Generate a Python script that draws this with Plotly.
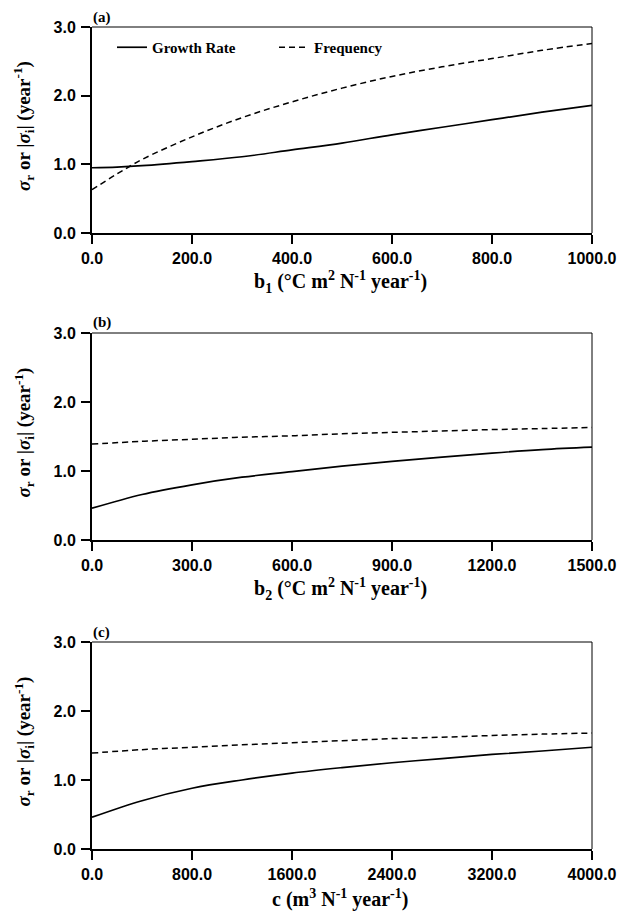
import plotly.graph_objects as go

# Panel (a): dependence on b1
b1 = [0, 50, 100, 200, 300, 400, 500, 600, 700, 800, 900, 1000]
growth_a = [0.95, 0.96, 0.98, 1.04, 1.11, 1.21, 1.31, 1.43, 1.54, 1.65, 1.76, 1.86]
freq_a = [0.63, 0.86, 1.07, 1.40, 1.68, 1.91, 2.11, 2.28, 2.42, 2.54, 2.66, 2.76]

# Panel (b): dependence on b2
b2 = [0, 150, 300, 450, 600, 750, 900, 1050, 1200, 1350, 1500]
growth_b = [0.46, 0.66, 0.80, 0.91, 0.99, 1.07, 1.14, 1.20, 1.26, 1.31, 1.345]
freq_b = [1.39, 1.43, 1.46, 1.49, 1.51, 1.54, 1.56, 1.58, 1.60, 1.615, 1.63]

# Panel (c): dependence on c
c_vals = [0, 400, 800, 1200, 1600, 2000, 2400, 2800, 3200, 3600, 4000]
growth_c = [0.46, 0.70, 0.88, 1.00, 1.10, 1.18, 1.25, 1.31, 1.37, 1.42, 1.475]
freq_c = [1.39, 1.44, 1.475, 1.51, 1.54, 1.57, 1.60, 1.62, 1.645, 1.665, 1.68]

x_ticks_a = [0, 200, 400, 600, 800, 1000]
x_ticks_b = [0, 300, 600, 900, 1200, 1500]
x_ticks_c = [0, 800, 1600, 2400, 3200, 4000]
y_ticks = [0, 1, 2, 3]

panel_letters = ["(a)", "(b)", "(c)"]
x_titles = [
    "b<sub>1</sub> (°C m<sup>2</sup> N<sup>-1</sup> year<sup>-1</sup>)",
    "b<sub>2</sub> (°C m<sup>2</sup> N<sup>-1</sup> year<sup>-1</sup>)",
    "c (m<sup>3</sup> N<sup>-1</sup> year<sup>-1</sup>)",
]
y_title = "<i>σ</i><sub>r</sub> or |<i>σ</i><sub>i</sub>| (year<sup>-1</sup>)"

W, H = 618, 911
X0, X1 = 92, 592
panel_px = [(27, 233), (333, 540), (642, 849)]  # top, bottom in pixels

serif = "Liberation Serif, Times New Roman, serif"
sans = "Liberation Sans, Arial, sans-serif"

panels = [
    (b1, growth_a, freq_a, x_ticks_a, [0, 1000]),
    (b2, growth_b, freq_b, x_ticks_b, [0, 1500]),
    (c_vals, growth_c, freq_c, x_ticks_c, [0, 4000]),
]

fig = go.Figure()
annotations = []
shapes = []

for i, (xs, gr, fr, xt, xr) in enumerate(panels):
    n = "" if i == 0 else str(i + 1)
    xa, ya = "x" + n, "y" + n
    fig.add_trace(go.Scatter(
        x=xs, y=gr, mode="lines", line=dict(color="black", width=1.7, shape="spline"),
        name="Growth Rate", showlegend=(i == 0), xaxis=xa, yaxis=ya))
    fig.add_trace(go.Scatter(
        x=xs, y=fr, mode="lines", line=dict(color="black", width=1.5, dash="6px,4px", shape="spline"),
        name="Frequency", showlegend=(i == 0), xaxis=xa, yaxis=ya))

    top, bot = panel_px[i]
    dom_y = [1 - bot / H, 1 - top / H]
    axis_common = dict(
        showgrid=False, zeroline=False, showline=True, linecolor="black", linewidth=2,
        ticks="outside", ticklen=9, tickwidth=1.5, tickcolor="black", automargin=False,
        tickfont=dict(family=sans, size=16, color="black", weight="bold"),
    )
    fig.layout["xaxis" + n] = dict(
        domain=[X0 / W, X1 / W], range=xr, tickvals=xt,
        ticktext=[f"{v:.1f}" for v in xt], anchor=ya, ticklabelstandoff=1, **axis_common)
    fig.layout["yaxis" + n] = dict(
        domain=dom_y, range=[0, 3], tickvals=y_ticks,
        ticktext=[f"{v:.1f}" for v in y_ticks], anchor=xa, ticklabelstandoff=2, **axis_common)

    # thin frame on top and right
    shapes.append(dict(type="line", xref=xa + " domain", yref=ya + " domain",
                       x0=0, x1=1, y0=1, y1=1, line=dict(color="black", width=1)))
    shapes.append(dict(type="line", xref=xa + " domain", yref=ya + " domain",
                       x0=1, x1=1, y0=0, y1=1, line=dict(color="black", width=1)))

    annotations.append(dict(
        text=panel_letters[i], xref="paper", yref="paper", x=91 / W, y=1 - (top - 10) / H,
        xanchor="left", yanchor="middle", showarrow=False,
        font=dict(family=serif, size=15, color="black", weight="bold")))
    annotations.append(dict(
        text=x_titles[i], xref="paper", yref="paper", x=340 / W,
        y=1 - (bot + 49) / H, xanchor="center", yanchor="middle", showarrow=False,
        font=dict(family=serif, size=20, color="black", weight="bold")))
    annotations.append(dict(
        text=y_title, xref="paper", yref="paper", x=24 / W,
        y=1 - ((top + bot) / 2 - 4) / H, xanchor="center", yanchor="middle",
        textangle=-90, showarrow=False,
        font=dict(family=serif, size=19, color="black", weight="bold")))

fig.update_layout(
    width=W, height=H, margin=dict(l=0, r=0, t=0, b=0, autoexpand=False),
    paper_bgcolor="white", plot_bgcolor="white",
    annotations=annotations, shapes=shapes,
    legend=dict(
        orientation="h", x=112 / W, y=1 - 31 / H, xanchor="left", yanchor="top",
        bgcolor="rgba(0,0,0,0)", entrywidth=117, entrywidthmode="pixels",
        font=dict(family=serif, size=15, color="black", weight="bold"),
    ),
)

fig.write_html("out.html")
